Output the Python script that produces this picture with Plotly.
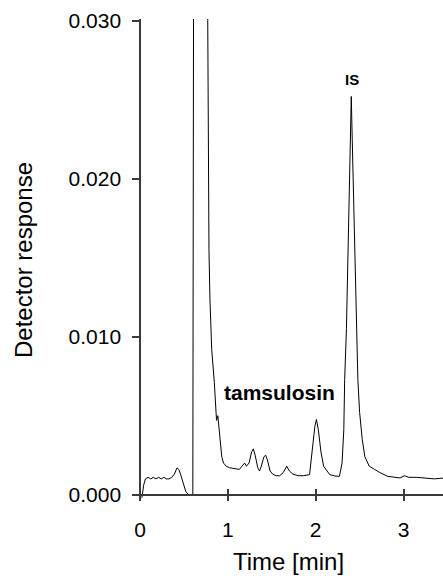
import plotly.graph_objects as go

# Chromatogram values
time_min = [0.02, 0.04, 0.06, 0.09, 0.12, 0.15, 0.18, 0.21, 0.24, 0.27, 0.30, 0.33,
            0.36, 0.39, 0.42, 0.44, 0.46, 0.48, 0.50, 0.52, 0.55, 0.600,
            0.612, 0.765, 0.770, 0.776, 0.784, 0.795, 0.815, 0.845, 0.860,
            0.870, 0.885, 0.895, 0.91, 0.93, 0.95, 0.98, 1.02, 1.06, 1.10, 1.13,
            1.16, 1.19, 1.21, 1.24, 1.27, 1.29, 1.31, 1.34, 1.36, 1.38, 1.41, 1.43,
            1.45, 1.48, 1.51, 1.55, 1.59, 1.63, 1.67, 1.70, 1.74, 1.80, 1.86, 1.93,
            1.97, 1.99, 2.008, 2.03, 2.06, 2.09, 2.16, 2.22, 2.27,
            2.30, 2.32, 2.33, 2.35, 2.37, 2.395, 2.405, 2.416, 2.44, 2.46, 2.48,
            2.50, 2.53, 2.56, 2.61, 2.67, 2.73, 2.82, 2.90, 2.96, 3.01, 3.06,
            3.15, 3.25, 3.35, 3.45]
response = [-0.0002, 0.0006, 0.0010, 0.0011, 0.0010, 0.0011, 0.0010, 0.0011, 0.0010, 0.0011, 0.0010, 0.0010,
            0.0011, 0.0013, 0.0017, 0.0016, 0.0013, 0.0009, 0.0005, 0.0002, 0.0000, 0.0000,
            0.0450, 0.0450, 0.0300, 0.0190, 0.0155, 0.0124, 0.0092, 0.0071, 0.0058,
            0.0047, 0.0050, 0.0044, 0.0032, 0.0024, 0.0020, 0.0018, 0.0017, 0.00165, 0.0016, 0.0016,
            0.0018, 0.0020, 0.0018, 0.0020, 0.0027, 0.0029, 0.0025, 0.0017, 0.0015, 0.0018, 0.0024, 0.0025,
            0.0022, 0.0015, 0.0013, 0.0012, 0.0012, 0.0014, 0.0018, 0.0015, 0.0013, 0.0012, 0.0012, 0.00127,
            0.0033, 0.0043, 0.00476, 0.0041, 0.0027, 0.0018, 0.00127, 0.00118, 0.00116,
            0.0020, 0.0041, 0.0073, 0.0105, 0.0162, 0.0225, 0.0252, 0.0225, 0.0162, 0.0105, 0.0073,
            0.0052, 0.0035, 0.0024, 0.0018, 0.0016, 0.0014, 0.00116, 0.0011, 0.00106, 0.0012, 0.0011,
            0.0011, 0.00105, 0.0010, 0.00105]

x_tick_vals = [0, 1, 2, 3]
x_tick_text = ["0", "1", "2", "3"]
y_tick_vals = [0.0, 0.01, 0.02, 0.03]
y_tick_text = ["0.000", "0.010", "0.020", "0.030"]

peak_labels = ["tamsulosin", "IS"]
peak_label_x = [1.59, 2.41]
peak_label_y = [0.00647, 0.02625]
peak_label_size = [21, 15]

x_range = [-0.07, 3.45]
y_range = [-0.0004, 0.0301]
FONT = "Liberation Sans, Arial, Helvetica, sans-serif"
AXIS_COLOR = "#3a3a3a"

x_axis_pos = (0 - y_range[0]) / (y_range[1] - y_range[0])
y_axis_pos = (0 - x_range[0]) / (x_range[1] - x_range[0])

fig = go.Figure()
fig.add_trace(go.Scatter(x=time_min, y=response, mode="lines",
                         line=dict(color="black", width=1),
                         showlegend=False, hoverinfo="skip"))
# helper trace so the overlaid axis (upper half of crossing ticks) is drawn
fig.add_trace(go.Scatter(x=[], y=[], xaxis="x2", mode="lines",
                         showlegend=False, hoverinfo="skip"))

for txt, lx, ly, sz in zip(peak_labels, peak_label_x, peak_label_y, peak_label_size):
    fig.add_annotation(x=lx, y=ly, text=f"<b>{txt}</b>", showarrow=False,
                       xanchor="center", yanchor="middle",
                       font=dict(family=FONT, size=sz, color="black"))

fig.update_layout(
    width=443, height=576,
    margin=dict(l=134, r=0, t=19, b=75, autoexpand=False),
    paper_bgcolor="white", plot_bgcolor="white",
    font=dict(family=FONT, size=21, color="black"),
    xaxis=dict(range=x_range, anchor="free", position=x_axis_pos,
               automargin=False,
               showgrid=False, zeroline=False,
               showline=True, linecolor=AXIS_COLOR, linewidth=1.6,
               ticks="outside", ticklen=6, tickwidth=1.5, tickcolor=AXIS_COLOR,
               tickvals=x_tick_vals, ticktext=x_tick_text,
               ticklabelstandoff=10,
               tickfont=dict(family=FONT, size=21, color="black"),
               title=dict(text="Time [min]", standoff=13,
                          font=dict(family=FONT, size=24, color="black"))),
    xaxis2=dict(range=x_range, overlaying="x", matches="x", side="bottom",
                anchor="free", position=x_axis_pos, automargin=False,
                showgrid=False, zeroline=False, showline=False,
                ticks="inside", ticklen=6, tickwidth=1.5, tickcolor=AXIS_COLOR,
                tickvals=x_tick_vals, showticklabels=False),
    yaxis=dict(range=y_range, anchor="free", position=y_axis_pos,
               automargin=False,
               showgrid=False, zeroline=False,
               showline=True, linecolor=AXIS_COLOR, linewidth=1.6,
               ticks="outside", ticklen=7, tickwidth=1.5, tickcolor=AXIS_COLOR,
               tickvals=y_tick_vals, ticktext=y_tick_text,
               ticklabelstandoff=7,
               tickfont=dict(family=FONT, size=21, color="black"),
               title=dict(text="Detector response", standoff=28,
                          font=dict(family=FONT, size=24, color="black"))),
)

fig.write_html("out.html", config={"displayModeBar": False},
               post_script="document.body.style.margin='0';document.body.style.overflow='hidden';")
